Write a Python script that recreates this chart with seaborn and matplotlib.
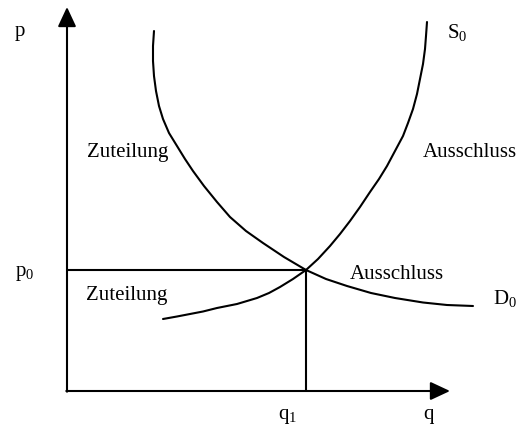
import matplotlib
matplotlib.use('Agg')
import matplotlib.pyplot as plt
import seaborn as sns

# Demand curve D0 (q, p)
demand_q = [8.7, 8.6, 8.6, 8.7, 8.9, 9.2, 9.6, 10.2, 11.0, 11.8, 12.6, 13.7, 15.0, 16.3,
            17.9, 19.6, 21.7, 23.9, 25.9, 28.0, 30.4, 32.8, 35.6, 38.0, 40.6]
demand_p = [36.0, 34.5, 33.0, 31.5, 30.0, 28.5, 27.2, 25.8, 24.5, 23.2, 22.0, 20.5, 18.9, 17.4,
            16.0, 14.8, 13.4, 12.1, 11.2, 10.5, 9.8, 9.3, 8.85, 8.6, 8.5]

# Supply curve S0 (q, p)
supply_q = [9.6, 11.0, 12.3, 13.6, 15.0, 17.0, 19.0, 20.2, 21.3, 22.6, 23.9, 25.1, 26.3, 27.3,
            28.3, 29.3, 30.3, 31.2, 32.0, 32.8, 33.6, 34.1, 34.6, 35.0, 35.3, 35.6, 35.8, 35.9, 36.0]
supply_p = [7.2, 7.45, 7.7, 7.95, 8.3, 8.7, 9.3, 9.8, 10.4, 11.2, 12.1, 13.2, 14.5, 15.7,
            17.0, 18.4, 19.9, 21.2, 22.5, 24.0, 25.5, 26.8, 28.2, 29.7, 31.2, 32.7, 34.2, 35.5, 36.9]

# equilibrium
q1 = 23.9
p0 = 12.1

sns.set_style('white')
plt.rcParams['font.family'] = ['Liberation Serif', 'DejaVu Serif']
plt.rcParams['mathtext.fontset'] = 'custom'
plt.rcParams['mathtext.rm'] = 'Liberation Serif'

fig = plt.figure(figsize=(5.25, 4.27), dpi=100)
ax = fig.add_axes([0, 0, 1, 1])
ax.set_xlim(-6.7, 45.8)
ax.set_ylim(-3.5, 39.2)
ax.axis('off')

lw = 1.5
sns.lineplot(x=demand_q, y=demand_p, sort=False, estimator=None, color='black', lw=lw,
             solid_joinstyle='round', ax=ax)
sns.lineplot(x=supply_q, y=supply_p, sort=False, estimator=None, color='black', lw=lw,
             solid_joinstyle='round', ax=ax)

# equilibrium guide lines
ax.hlines(p0, 0, q1, color='black', lw=lw)
ax.vlines(q1, 0, p0, color='black', lw=lw)

# axes with arrow heads
arrow = dict(arrowstyle='-|>,head_length=0.6,head_width=0.28', mutation_scale=20,
             color='black', lw=lw, shrinkA=0, shrinkB=0)
ax.annotate('', xy=(0, 38.4), xytext=(0, -0.07), arrowprops=arrow)
ax.annotate('', xy=(38.3, 0), xytext=(-0.07, 0), arrowprops=arrow)

fs = 15
txt = dict(fontsize=fs, va='baseline', color='black')
ax.text(-5.2, 35.6, 'p', ha='left', **txt)
ax.text(-5.2, 11.6, r'$\mathregular{p_0}$', ha='left', **txt)
ax.text(38.0, 35.4, r'$\mathregular{S_0}$', ha='left', **txt)
ax.text(42.6, 8.8, r'$\mathregular{D_0}$', ha='left', **txt)
ax.text(21.1, -2.75, r'$\mathregular{q_1}$', ha='left', **txt)
ax.text(35.6, -2.75, 'q', ha='left', **txt)
ax.text(10.1, 23.5, 'Zuteilung', ha='right', **txt)
ax.text(35.6, 23.5, 'Ausschluss', ha='left', **txt)
ax.text(1.9, 9.2, 'Zuteilung', ha='left', **txt)
ax.text(28.3, 11.3, 'Ausschluss', ha='left', **txt)

fig.savefig('out.png', dpi=100)
